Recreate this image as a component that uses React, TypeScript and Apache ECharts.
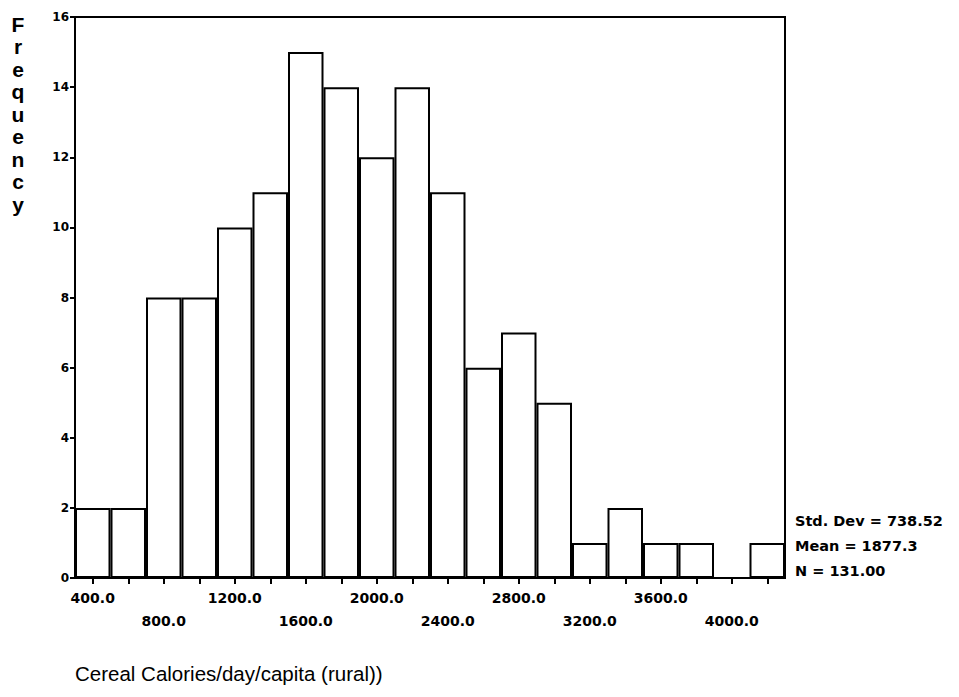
import React, { useEffect, useRef } from "react";
import * as echarts from "echarts";

const binCenters = [400, 600, 800, 1000, 1200, 1400, 1600, 1800, 2000, 2200, 2400, 2600, 2800, 3000, 3200, 3400, 3600, 3800, 4000, 4200];
const frequencies = [2, 2, 8, 8, 10, 11, 15, 14, 12, 14, 11, 6, 7, 5, 1, 2, 1, 1, 0, 1];
const yTicks = [0, 2, 4, 6, 8, 10, 12, 14, 16];
const statsLines = ["Std. Dev = 738.52", "Mean = 1877.3", "N = 131.00"];
const yTitle = "Frequency";
const xTitle = "Cereal Calories/day/capita (rural))";

export default function App() {
  const ref = useRef<HTMLDivElement>(null);
  useEffect(() => {
    if (!ref.current) return;
    const chart = echarts.init(ref.current, null, { renderer: "svg" });
    const tickFont = "DejaVu Sans, Verdana, sans-serif";
    const font = "Liberation Sans, Arial, sans-serif";
    chart.setOption({
      animation: false,
      backgroundColor: "#ffffff",
      grid: {
        left: 75,
        top: 17,
        width: 710,
        height: 561,
        show: true,
        borderColor: "#000",
        borderWidth: 2,
        backgroundColor: "transparent",
      },
      xAxis: {
        type: "category",
        data: binCenters.map((v) => v.toFixed(1)),
        axisLine: { show: true, lineStyle: { color: "#000", width: 2 } },
        axisTick: { show: true, alignWithLabel: true, interval: 0, length: 6, lineStyle: { color: "#000", width: 2 } },
        axisLabel: {
          interval: 1,
          color: "#000",
          fontFamily: tickFont,
          fontWeight: "bold",
          fontSize: 14,
          margin: 8,
          lineHeight: 23,
          formatter: (v: string, i: number) => (i % 4 === 2 ? "\n" + v : v),
        },
        splitLine: { show: false },
      },
      yAxis: {
        type: "value",
        min: yTicks[0],
        max: yTicks[yTicks.length - 1],
        interval: 2,
        axisLine: { show: true, lineStyle: { color: "#000", width: 2 } },
        axisTick: { show: true, length: 5, lineStyle: { color: "#000", width: 2 } },
        axisLabel: { color: "#000", fontFamily: tickFont, fontWeight: "bold", fontSize: 12, margin: 6 },
        splitLine: { show: false },
      },
      series: [
        {
          type: "bar",
          data: frequencies,
          barCategoryGap: "0%",
          itemStyle: { color: "#fff", borderColor: "#000", borderWidth: 2 },
        },
      ],
      graphic: [
        {
          type: "text",
          x: 18,
          y: 13,
          style: {
            text: yTitle.split("").join("\n"),
            font: `bold 21px ${font}`,
            lineHeight: 22.5,
            fill: "#000",
            align: "center",
            verticalAlign: "top",
          },
        },
        {
          type: "text",
          left: 75,
          top: 663,
          style: { text: xTitle, font: `20.5px ${font}`, fill: "#000" },
        },
        {
          type: "text",
          x: 795,
          y: 508,
          style: {
            text: statsLines.join("\n"),
            font: `bold 14.5px ${tickFont}`,
            lineHeight: 25,
            fill: "#000",
            verticalAlign: "top",
          },
        },
      ],
    });
    return () => chart.dispose();
  }, []);
  return <div ref={ref} style={{ width: 959, height: 697, margin: -8 }} />;
}
